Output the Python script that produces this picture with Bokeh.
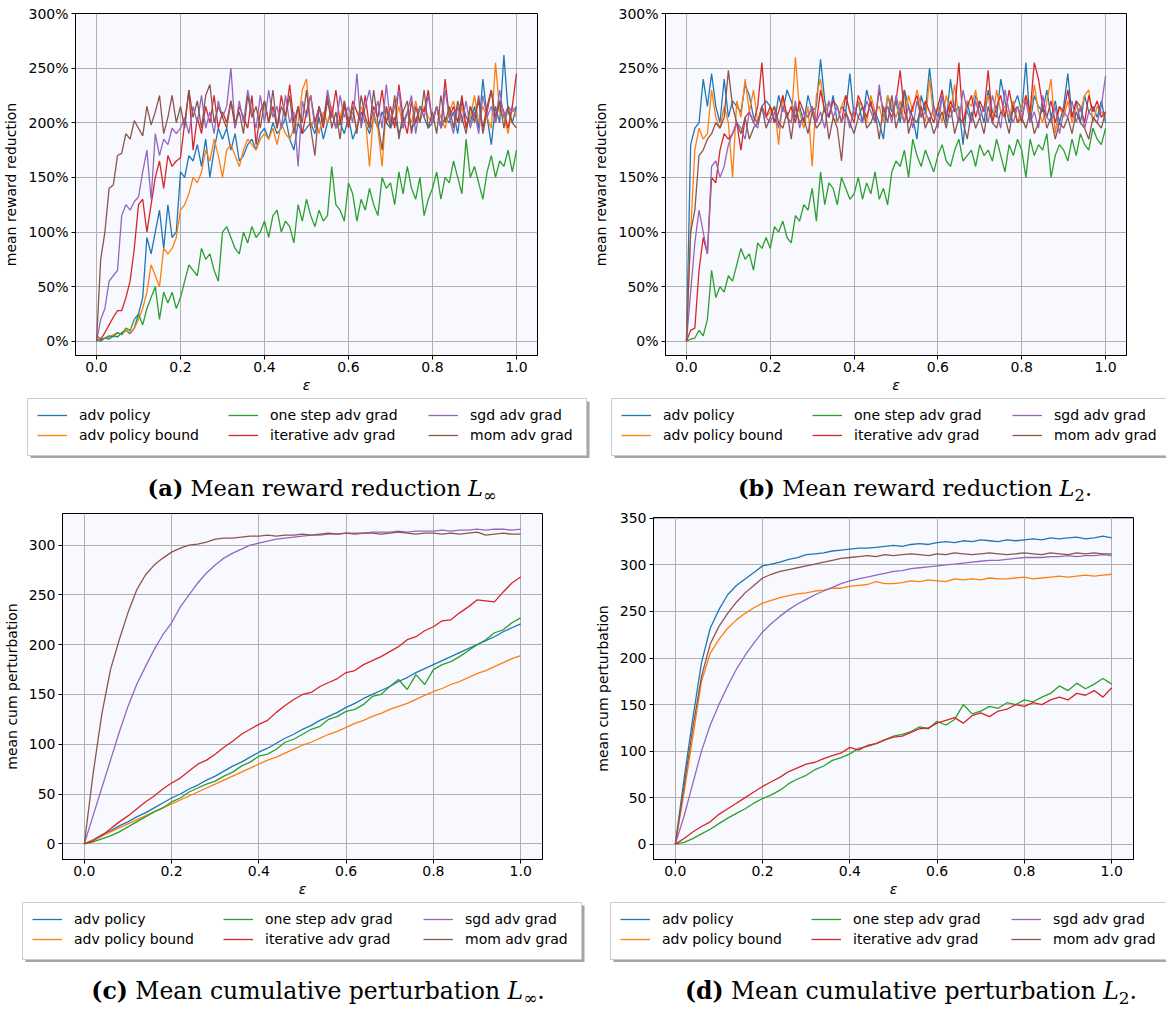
from bokeh.plotting import figure
from bokeh.models import (Legend, LegendItem, FixedTicker, PrintfTickFormatter, Div,
                          Range1d, BoxAnnotation)
from bokeh.layouts import column, row
from bokeh.embed import file_html
from bokeh.resources import INLINE

SERIES = ["adv policy", "adv policy bound", "one step adv grad",
          "iterative adv grad", "sgd adv grad", "mom adv grad"]
COLORS = ["#1f77b4", "#ff7f0e", "#2ca02c", "#d62728", "#9467bd", "#8c564b"]

# epsilon grids
X_FINE = [i / 100 for i in range(101)]
X_COARSE = [i / 50 for i in range(51)]

# ---------------- (a) mean reward reduction, L_inf (percent) ----------------
a_adv_policy = [2, 0, 3, 2, 5, 4, 8, 10, 7, 12,
                25, 40, 95, 80, 100, 120, 85, 125, 95, 100,
                155, 150, 170, 165, 180, 160, 185, 150, 175, 195,
                185, 195, 175, 190, 165, 170, 180, 185, 175, 190,
                195, 185, 200, 190, 195, 205, 185, 175, 200, 190,
                195, 200, 190, 205, 185, 200, 210, 195, 200, 190,
                205, 185, 195, 210, 200, 190, 205, 195, 210, 200,
                195, 205, 190, 200, 210, 195, 200, 215, 205, 195,
                200, 215, 195, 205, 200, 210, 190, 220, 205, 200,
                215, 195, 240, 205, 180, 215, 200, 262, 210, 200, 215]
a_adv_policy_bound = [0, 2, 3, 4, 6, 8, 6, 10, 8, 12,
                      20, 30, 45, 70, 60, 50, 85, 80, 85, 95,
                      120, 125, 135, 150, 145, 155, 175, 165, 185, 170,
                      150, 175, 180, 170, 160, 175, 185, 180, 175, 185,
                      190, 185, 195, 180, 200, 190, 185, 195, 200, 230,
                      240, 195, 205, 190, 210, 200, 215, 195, 205, 220,
                      200, 210, 195, 215, 205, 160, 210, 195, 160, 215,
                      205, 200, 215, 195, 210, 200, 220, 200, 215, 205,
                      200, 215, 205, 195, 210, 220, 200, 215, 195, 205,
                      225, 200, 215, 205, 195, 255, 210, 205, 190, 215, 205]
a_one_step = [0, 2, 3, 5, 4, 8, 6, 12, 10, 20,
              25, 15, 30, 40, 50, 20, 45, 35, 45, 30,
              40, 55, 70, 65, 60, 85, 75, 80, 65, 55,
              100, 105, 95, 85, 80, 100, 90, 105, 95, 100,
              110, 95, 115, 120, 100, 110, 105, 90, 125, 110,
              130, 115, 105, 120, 110, 115, 160, 125, 120, 110,
              145, 135, 110, 130, 120, 140, 125, 115, 150, 140,
              145, 125, 155, 135, 160, 140, 130, 150, 115, 130,
              140, 155, 130, 150, 145, 165, 150, 135, 185, 150,
              160, 145, 130, 155, 170, 150, 165, 160, 175, 155, 175]
a_iterative = [5, 2, 8, 15, 22, 28, 28, 40, 55, 85,
               125, 130, 100, 125, 150, 165, 140, 170, 160, 165,
               168, 200, 230, 175, 205, 190, 215, 200, 225, 195,
               210, 200, 220, 195, 215, 205, 195, 225, 180, 210,
               220, 200, 215, 195, 225, 205, 235, 200, 215, 190,
               210, 225, 200, 215, 195, 220, 205, 230, 200, 215,
               195, 220, 210, 200, 225, 195, 215, 205, 230, 200,
               215, 195, 235, 205, 190, 220, 200, 215, 210, 230,
               200, 215, 195, 240, 205, 215, 200, 225, 195, 215,
               205, 220, 195, 215, 230, 200, 220, 210, 195, 215, 245]
a_sgd = [0, 20, 30, 55, 60, 65, 115, 125, 120, 128,
         132, 155, 175, 130, 190, 170, 185, 180, 195, 190,
         195, 205, 190, 215, 200, 225, 195, 210, 190, 220,
         205, 215, 250, 195, 220, 200, 230, 210, 195, 225,
         200, 230, 205, 215, 195, 225, 200, 210, 160, 220,
         205, 225, 195, 215, 200, 230, 210, 195, 225, 205,
         215, 200, 245, 195, 215, 230, 205, 220, 195, 235,
         200, 215, 230, 195, 210, 225, 190, 215, 205, 225,
         200, 215, 195, 230, 205, 190, 215, 200, 220, 195,
         210, 190, 225, 205, 215, 200, 230, 205, 215, 210, 215]
a_mom = [0, 75, 100, 140, 143, 170, 172, 190, 185, 202,
         195, 188, 215, 198, 210, 225, 190, 205, 225, 200,
         215, 195, 230, 205, 220, 195, 225, 235, 200, 215,
         205, 195, 220, 200, 210, 190, 225, 205, 215, 195,
         220, 200, 230, 195, 215, 205, 225, 190, 215, 200,
         230, 195, 170, 215, 200, 225, 195, 210, 185, 220,
         200, 215, 190, 225, 205, 195, 230, 200, 175, 215,
         195, 225, 185, 210, 220, 190, 215, 200, 230, 195,
         210, 190, 225, 200, 215, 195, 220, 205, 190, 215,
         200, 225, 190, 210, 230, 205, 220, 195, 215, 200, 195]

# ---------------- (b) mean reward reduction, L_2 (percent) ----------------
b_adv_policy = [0, 180, 195, 200, 240, 215, 245, 215, 200, 240,
                205, 220, 215, 210, 235, 225, 205, 200, 215, 220,
                215, 200, 225, 210, 230, 220, 205, 215, 200, 225,
                210, 215, 258, 220, 205, 225, 200, 215, 210, 245,
                205, 220, 200, 230, 215, 210, 200, 185, 225, 210,
                220, 200, 230, 215, 205, 185, 225, 210, 250, 215,
                205, 225, 200, 240, 210, 215, 180, 220, 200, 225,
                215, 200, 230, 210, 205, 240, 220, 200, 215, 225,
                210, 255, 200, 225, 215, 210, 230, 205, 220, 200,
                215, 245, 205, 220, 200, 225, 210, 215, 205, 220, 200]
b_adv_policy_bound = [0, 100, 175, 195, 185, 190, 230, 205, 195, 215,
                      200, 150, 220, 205, 240, 210, 230, 200, 215, 205,
                      210, 215, 180, 225, 205, 200, 260, 210, 195, 215,
                      160, 225, 240, 210, 220, 205, 200, 215, 225, 210,
                      205, 220, 215, 200, 225, 210, 215, 200, 225, 215,
                      205, 220, 200, 225, 210, 230, 215, 200, 240, 205,
                      215, 200, 225, 210, 235, 205, 200, 220, 215, 230,
                      205, 215, 225, 200, 230, 210, 215, 205, 220, 200,
                      215, 225, 205, 235, 210, 200, 220, 240, 190, 215,
                      205, 220, 200, 215, 210, 225, 230, 200, 215, 210, 205]
b_one_step = [0, 2, 3, 10, 5, 20, 65, 40, 50, 45,
              60, 55, 70, 85, 75, 80, 65, 90, 85, 95,
              85, 105, 100, 110, 95, 90, 115, 110, 125, 120,
              140, 110, 155, 125, 145, 140, 125, 150, 140, 130,
              135, 150, 130, 145, 135, 155, 130, 140, 125, 155,
              165, 160, 175, 150, 185, 170, 160, 175, 165, 155,
              170, 180, 165, 160, 175, 185, 165, 170, 175, 160,
              180, 170, 175, 165, 185, 170, 155, 180, 170, 185,
              175, 150, 185, 170, 180, 175, 190, 150, 170, 180,
              175, 165, 185, 170, 190, 180, 175, 195, 185, 180, 195]
b_iterative = [0, 10, 12, 65, 95, 80, 150, 145, 175, 190,
               185, 190, 200, 175, 205, 210, 200, 215, 255, 205,
               215, 200, 210, 225, 205, 215, 200, 220, 210, 205,
               215, 200, 230, 210, 205, 220, 215, 200, 225, 210,
               200, 225, 215, 205, 220, 200, 230, 210, 215, 205,
               220, 248, 210, 200, 215, 225, 205, 220, 210, 200,
               215, 230, 205, 220, 210, 255, 200, 215, 225, 205,
               220, 210, 248, 200, 215, 225, 205, 230, 210, 215,
               200, 225, 210, 255, 240, 215, 205, 220, 200, 215,
               210, 230, 205, 220, 215, 200, 225, 210, 220, 205, 210]
b_sgd = [0, 45, 90, 120, 100, 80, 160, 165, 150, 160,
         180, 190, 200, 195, 185, 210, 200, 195, 215, 205,
         200, 210, 195, 215, 205, 200, 220, 195, 210, 205,
         215, 200, 210, 195, 220, 205, 215, 200, 210, 195,
         215, 205, 200, 220, 210, 200, 235, 205, 215, 200,
         225, 210, 200, 215, 195, 220, 205, 210, 200, 215,
         195, 225, 210, 205, 215, 200, 230, 210, 200, 220,
         205, 215, 200, 225, 210, 195, 230, 210, 200, 215,
         205, 220, 200, 210, 195, 225, 205, 200, 215, 190,
         210, 205, 220, 200, 215, 195, 210, 205, 200, 215, 243]
b_mom = [0, 100, 120, 170, 175, 185, 190, 200, 195, 205,
         248, 215, 200, 190, 205, 185, 195, 200, 215, 195,
         205, 215, 200, 195, 210, 185, 215, 200, 205, 190,
         210, 195, 200, 215, 185, 205, 195, 165, 210, 200,
         190, 205, 215, 195, 200, 210, 185, 215, 200, 225,
         195, 210, 230, 190, 205, 200, 215, 195, 205, 190,
         200, 210, 195, 215, 190, 205, 200, 185, 210, 195,
         205, 190, 215, 200, 195, 210, 205, 190, 215, 200,
         205, 195, 210, 190, 200, 215, 195, 205, 185, 200,
         195, 205, 190, 210, 200, 195, 185, 205, 200, 195, 210]

# ---------------- (c) mean cumulative perturbation, L_inf ----------------
c_adv_policy = [0, 4, 9, 13, 18, 22, 27, 31, 36, 41, 46, 50, 55, 59, 64, 68, 73,
                78, 82, 87, 92, 96, 101, 106, 110, 115, 119, 124, 128, 132, 137,
                141, 146, 150, 154, 158, 163, 167, 172, 176, 180, 184, 188, 192,
                196, 200, 204, 208, 213, 217, 221]
c_adv_policy_bound = [0, 4, 8, 12, 16, 20, 24, 28, 32, 36, 40, 44, 48, 52, 56, 60,
                      64, 68, 72, 76, 80, 84, 87, 91, 95, 99, 102, 106, 110, 113,
                      117, 121, 124, 128, 131, 135, 138, 141, 145, 149, 153, 156,
                      160, 163, 167, 171, 174, 178, 182, 186, 189]
c_one_step = [0, 2, 5, 8, 12, 17, 22, 27, 32, 36, 42, 46, 52, 56, 60, 63, 68, 72,
              78, 82, 88, 90, 95, 102, 105, 110, 115, 118, 125, 128, 133, 135, 140,
              148, 150, 158, 165, 155, 170, 160, 175, 180, 183, 188, 194, 200, 205,
              212, 215, 222, 227]
c_iterative = [0, 3, 8, 15, 22, 28, 35, 42, 48, 55, 61, 66, 73, 80, 84, 90, 97, 103,
               110, 115, 120, 124, 132, 139, 145, 150, 152, 158, 162, 166, 172, 174,
               180, 184, 188, 193, 198, 205, 208, 214, 218, 224, 225, 232, 238, 245,
               244, 243, 253, 262, 268]
c_sgd = [0, 28, 56, 84, 112, 138, 160, 178, 195, 210, 222, 238, 250, 262, 272, 280,
         287, 292, 296, 300, 302, 304, 306, 307, 308, 309, 310, 310, 311, 311, 312,
         312, 312, 313, 313, 313, 314, 313, 314, 314, 314, 315, 314, 315, 315, 316,
         315, 316, 316, 315, 316]
c_mom = [0, 70, 130, 175, 205, 232, 255, 270, 280, 287, 293, 297, 300, 301, 303,
         306, 307, 307, 308, 309, 309, 310, 309, 310, 310, 311, 310, 311, 312, 311,
         312, 311, 312, 312, 311, 312, 313, 312, 311, 312, 312, 311, 312, 311, 312,
         313, 310, 311, 312, 311, 311]

# ---------------- (d) mean cumulative perturbation, L_2 ----------------
d_adv_policy = [0, 70, 135, 195, 232, 252, 268, 278, 285, 292, 299, 301, 303, 306,
                308, 311, 312, 313, 315, 316, 317, 318, 318, 319, 320, 321, 320, 322,
                323, 322, 324, 325, 324, 326, 325, 327, 326, 325, 327, 326, 327, 328,
                327, 329, 328, 329, 330, 328, 329, 331, 329]
d_adv_policy_bound = [0, 55, 115, 175, 205, 220, 232, 241, 248, 254, 259, 262, 265,
                      267, 269, 270, 272, 273, 275, 275, 277, 278, 279, 282, 280, 280,
                      281, 283, 282, 284, 283, 282, 285, 284, 285, 284, 286, 285, 285,
                      286, 287, 285, 286, 287, 288, 287, 288, 289, 288, 289, 290]
d_one_step = [0, 2, 6, 11, 16, 22, 28, 33, 38, 44, 49, 53, 58, 65, 70, 74, 80, 84,
              90, 93, 97, 103, 105, 108, 112, 116, 118, 121, 126, 124, 132, 128, 134,
              150, 140, 143, 148, 146, 152, 150, 155, 153, 158, 162, 170, 165, 173,
              167, 172, 178, 172]
d_iterative = [0, 6, 13, 19, 24, 32, 38, 44, 50, 56, 62, 67, 72, 78, 82, 86, 88, 92,
               95, 98, 104, 101, 106, 108, 112, 115, 116, 120, 124, 125, 130, 133,
               136, 130, 138, 141, 137, 143, 145, 150, 148, 152, 150, 155, 158, 155,
               162, 160, 165, 158, 168]
d_sgd = [0, 30, 65, 100, 128, 150, 170, 188, 203, 216, 228, 237, 245, 252, 258, 263,
         268, 272, 276, 280, 283, 285, 287, 289, 291, 293, 294, 296, 297, 298, 299,
         300, 301, 302, 303, 304, 305, 305, 306, 307, 308, 308, 308, 309, 309, 310,
         309, 310, 310, 311, 310]
d_mom = [0, 62, 125, 180, 215, 234, 248, 260, 270, 278, 286, 290, 293, 295, 297, 299,
         301, 303, 305, 307, 308, 309, 310, 309, 311, 310, 311, 312, 311, 310, 312,
         311, 313, 312, 311, 312, 313, 312, 311, 312, 313, 312, 311, 313, 312, 311,
         313, 312, 313, 312, 312]

Y_TICKS_REWARD = [0, 50, 100, 150, 200, 250, 300]
Y_TICKS_PERT_C = [0, 50, 100, 150, 200, 250, 300]
Y_TICKS_PERT_D = [0, 50, 100, 150, 200, 250, 300, 350]
X_TICKS = [0.0, 0.2, 0.4, 0.6, 0.8, 1.0]

FONT = "DejaVu Sans"
LEFT_W = 590
RIGHT_W = 576
NAN = float("nan")


def make_panel(xs, series, y_range, yticks, yfmt, ylabel, fw, fh, bl, br, bt, bb):
    p = figure(frame_width=fw, frame_height=fh, min_border_left=bl, min_border_right=br,
               min_border_top=bt, min_border_bottom=bb,
               x_range=Range1d(-0.05, 1.05), y_range=Range1d(*y_range),
               output_backend="svg", toolbar_location=None, frame_align=False)
    p.background_fill_color = "#f8f8ff"
    p.border_fill_color = "white"
    p.outline_line_color = "black"
    p.outline_line_width = 1
    p.outline_line_alpha = 1
    for ys, c in zip(series, COLORS):
        p.line(xs, ys, line_color=c, line_width=1.3)
    p.xaxis.ticker = FixedTicker(ticks=X_TICKS)
    p.xaxis.formatter = PrintfTickFormatter(format="%.1f")
    p.yaxis.ticker = FixedTicker(ticks=yticks)
    p.yaxis.formatter = PrintfTickFormatter(format=yfmt)
    for ax in (p.xaxis[0], p.yaxis[0]):
        ax.major_label_text_font = FONT
        ax.major_label_text_font_size = "14px"
        ax.major_label_text_color = "black"
        ax.axis_label_text_font = FONT
        ax.axis_label_text_font_size = "14px"
        ax.axis_label_text_color = "black"
        ax.axis_line_color = "black"
        ax.major_tick_line_color = "black"
        ax.major_tick_out = 4
        ax.major_tick_in = 0
        ax.minor_tick_out = 0
        ax.minor_tick_in = 0
    p.xaxis.axis_label = "ε"
    p.xaxis.axis_label_text_font_style = "italic"
    p.xaxis.major_label_standoff = 2
    p.xaxis.axis_label_standoff = 2
    p.yaxis.axis_label = ylabel
    p.yaxis.axis_label_text_font_style = "normal"
    p.yaxis.major_label_standoff = 3
    p.yaxis.axis_label_standoff = 6
    p.grid.grid_line_color = "#b0b0b0"
    p.grid.grid_line_width = 1
    p.xgrid.ticker = FixedTicker(ticks=X_TICKS)
    p.ygrid.ticker = FixedTicker(ticks=yticks)
    return p


def make_legend(width, height, box_left, box_top_gap):
    """A strip holding the matplotlib-style 3-column legend box."""
    p = figure(width=width, height=height, min_border=0,
               x_range=Range1d(0, width), y_range=Range1d(0, height),
               x_axis_location=None, y_axis_location=None,
               output_backend="svg", toolbar_location=None, frame_align=False)
    p.outline_line_color = None
    p.background_fill_color = "white"
    p.border_fill_color = "white"
    p.grid.visible = False
    box_w, box_h = 559, 57
    top = height - box_top_gap
    p.add_layout(BoxAnnotation(left=box_left + 3, right=box_left + box_w + 3,
                               top=top - 3, bottom=top - box_h - 3,
                               fill_color="#a6a6a6", fill_alpha=1, line_color=None))
    p.add_layout(BoxAnnotation(left=box_left, right=box_left + box_w,
                               top=top, bottom=top - box_h,
                               fill_color="white", fill_alpha=1,
                               line_color="#cccccc", line_width=1, line_alpha=1))
    rends = [p.line([NAN], [NAN], line_color=c, line_width=1.3) for c in COLORS]
    for k, off in enumerate([10, 201, 401]):
        items = [LegendItem(label=SERIES[2 * k + j], renderers=[rends[2 * k + j]])
                 for j in range(2)]
        leg = Legend(items=items, location=(box_left + off, top - 47),
                     orientation="vertical",
                     label_text_font=FONT, label_text_font_size="14px",
                     label_text_color="black",
                     glyph_width=30, glyph_height=20, label_height=20,
                     label_standoff=12, spacing=0, padding=0, margin=0,
                     border_line_color=None, background_fill_alpha=0)
        p.add_layout(leg, "center")
    return p


def caption(html, width, height, pad_top, line_h, shift, size):
    return Div(text=(f'<div style="width:{width}px;height:{height}px;text-align:center;'
                     f'font-family:\'DejaVu Serif\';font-size:{size}px;line-height:{line_h}px;'
                     f'padding-top:{pad_top}px;color:black;padding-left:{shift}px;'
                     f'box-sizing:border-box;overflow:hidden;white-space:nowrap">{html}</div>'),
               width=width, height=height, margin=(0, 0, 0, 0))


SUB = '<span style="font-size:0.72em;position:relative;top:0.3em">{}</span>'

pa = make_panel(X_FINE, [a_adv_policy, a_adv_policy_bound, a_one_step, a_iterative, a_sgd, a_mom],
                (-13, 300), Y_TICKS_REWARD, "%d%%", "mean reward reduction",
                462, 342, 75, 53, 13, 42)
pb = make_panel(X_FINE, [b_adv_policy, b_adv_policy_bound, b_one_step, b_iterative, b_sgd, b_mom],
                (-13, 300), Y_TICKS_REWARD, "%d%%", "mean reward reduction",
                461, 342, 72, 43, 13, 42)
pc = make_panel(X_COARSE, [c_adv_policy, c_adv_policy_bound, c_one_step, c_iterative, c_sgd, c_mom],
                (-15.8, 331.8), Y_TICKS_PERT_C, "%d", "mean cum perturbation",
                480, 346, 61, 49, 7, 42)
pd_ = make_panel(X_COARSE, [d_adv_policy, d_adv_policy_bound, d_one_step, d_iterative, d_sgd, d_mom],
                 (-16.5, 351), Y_TICKS_PERT_D, "%d", "mean cum perturbation",
                 480, 342, 59, 37, 11, 42)

la = make_legend(LEFT_W, 61, 27, 1)
lb = make_legend(RIGHT_W, 61, 21, 1)
lc = make_legend(LEFT_W, 61, 22, 1)
ld = make_legend(RIGHT_W, 61, 19, 1)

ca = caption('<b>(a)</b> Mean reward reduction <i>L</i>' + SUB.format('∞'),
             LEFT_W, 48, 12, 36, 54, 22.5)
cb = caption('<b>(b)</b> Mean reward reduction <i>L</i>' + SUB.format('2') + '.',
             RIGHT_W, 48, 12, 36, 74, 22.5)
cc = caption('<b>(c)</b> Mean cumulative perturbation <i>L</i>' + SUB.format('∞') + '.',
             LEFT_W, 45, 13, 32, 46, 23.5)
cd = caption('<b>(d)</b> Mean cumulative perturbation <i>L</i>' + SUB.format('2') + '.',
             RIGHT_W, 45, 13, 32, 64, 23.5)

layout = column(row(column(pa, la, ca), column(pb, lb, cb)),
                row(column(pc, lc, cc), column(pd_, ld, cd)))

open("out.html", "w").write(file_html(layout, INLINE))
